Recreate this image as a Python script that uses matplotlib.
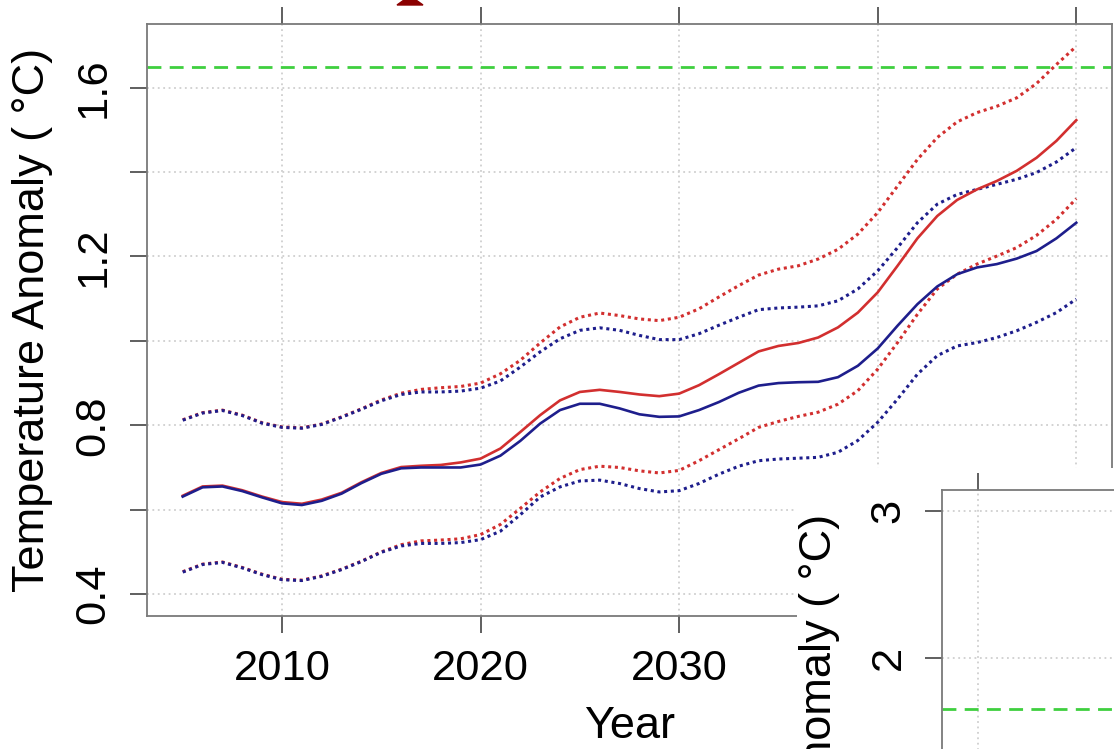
import numpy as np
import matplotlib
matplotlib.use('Agg')
from matplotlib import pyplot
from matplotlib.patches import Polygon, Rectangle

# Projected temperature anomaly, 2005-2050
years = np.arange(2005, 2051)

red_mean = [
    0.633, 0.655, 0.657, 0.646, 0.631, 0.618, 0.614, 0.624, 0.640, 0.665,
    0.687, 0.701, 0.704, 0.706, 0.712, 0.721, 0.745, 0.784, 0.824, 0.859,
    0.879, 0.884, 0.879, 0.873, 0.869, 0.875, 0.895, 0.921, 0.948, 0.975,
    0.988, 0.995, 1.008, 1.032, 1.067, 1.115, 1.178, 1.243, 1.296, 1.334,
    1.359, 1.379, 1.403, 1.434, 1.474, 1.523,
]
red_upper = [
    0.813, 0.830, 0.836, 0.824, 0.806, 0.796, 0.794, 0.803, 0.820, 0.839,
    0.860, 0.876, 0.885, 0.889, 0.892, 0.900, 0.922, 0.954, 0.995, 1.033,
    1.056, 1.066, 1.060, 1.052, 1.048, 1.056, 1.076, 1.104, 1.131, 1.156,
    1.170, 1.178, 1.194, 1.217, 1.253, 1.304, 1.367, 1.430, 1.482, 1.519,
    1.541, 1.556, 1.576, 1.610, 1.655, 1.698,
]
red_lower = [
    0.453, 0.471, 0.476, 0.463, 0.447, 0.435, 0.433, 0.443, 0.459, 0.478,
    0.500, 0.517, 0.526, 0.528, 0.531, 0.541, 0.565, 0.603, 0.642, 0.674,
    0.695, 0.703, 0.700, 0.692, 0.687, 0.693, 0.716, 0.742, 0.768, 0.795,
    0.809, 0.821, 0.831, 0.850, 0.882, 0.933, 0.996, 1.063, 1.123, 1.158,
    1.182, 1.201, 1.221, 1.250, 1.288, 1.337,
]
blue_mean = [
    0.631, 0.653, 0.655, 0.644, 0.629, 0.615, 0.611, 0.621, 0.638, 0.663,
    0.685, 0.698, 0.700, 0.700, 0.700, 0.707, 0.728, 0.763, 0.804, 0.836,
    0.851, 0.851, 0.840, 0.826, 0.820, 0.821, 0.836, 0.855, 0.877, 0.894,
    0.900, 0.902, 0.903, 0.914, 0.941, 0.982, 1.036, 1.087, 1.129, 1.158,
    1.174, 1.182, 1.195, 1.213, 1.243, 1.280,
]
blue_upper = [
    0.812, 0.829, 0.835, 0.823, 0.805, 0.795, 0.793, 0.802, 0.819, 0.838,
    0.858, 0.873, 0.879, 0.879, 0.881, 0.888, 0.905, 0.938, 0.974, 1.005,
    1.025, 1.031, 1.025, 1.013, 1.003, 1.003, 1.017, 1.037, 1.056, 1.074,
    1.078, 1.080, 1.083, 1.095, 1.123, 1.166, 1.221, 1.280, 1.324, 1.347,
    1.359, 1.371, 1.383, 1.399, 1.424, 1.458,
]
blue_lower = [
    0.452, 0.470, 0.475, 0.462, 0.446, 0.434, 0.432, 0.442, 0.458, 0.477,
    0.499, 0.514, 0.520, 0.520, 0.522, 0.529, 0.549, 0.588, 0.630, 0.654,
    0.668, 0.670, 0.662, 0.650, 0.642, 0.645, 0.662, 0.684, 0.703, 0.716,
    0.720, 0.722, 0.724, 0.736, 0.764, 0.807, 0.862, 0.921, 0.965, 0.988,
    0.996, 1.008, 1.024, 1.044, 1.067, 1.099,
]
threshold = 1.65

x_ticks = [2010, 2020, 2030, 2040, 2050]
y_ticks = [0.4, 0.6, 0.8, 1.0, 1.2, 1.4, 1.6]
y_tick_labels = ['0.4', '', '0.8', '', '1.2', '', '1.6']

inset_x_ticks = [2010, 2050, 2090]
inset_y_ticks = [0, 1, 2, 3]

W, H = 1114.0, 749.0
RED = '#d22f2f'
BLUE = '#1e1e8c'
GREEN = '#3fcf3f'
GRID = '#cfcfcf'
TICK_FONT = 31.3
LABEL_FONT = 32.5


def style_axes(ax):
    for side in ('left', 'top', 'right', 'bottom'):
        ax.spines[side].set_color('#7a7a7a')
        ax.spines[side].set_linewidth(1.3)
    ax.tick_params(direction='out', length=12, width=1.2, color='#444444',
                   labelsize=TICK_FONT, pad=12)
    ax.tick_params(axis='y', labelrotation=90)
    ax.tick_params(axis='x', top=True)
    for lbl in ax.get_yticklabels():
        lbl.set_va('center')
    ax.grid(True, color=GRID, linestyle=(0, (1, 2)), linewidth=1.3)
    ax.set_axisbelow(True)


def main():
    pyplot.rcParams['font.family'] = ['Liberation Sans', 'DejaVu Sans']
    fig = pyplot.figure(figsize=(W / 100, H / 100), dpi=100)

    ax = fig.add_axes([147 / W, 1 - 616 / H, 965 / W, 592 / H])
    dot = (0, (1, 1.2))
    ax.plot(years, red_upper, color=RED, lw=2.2, linestyle=dot, dash_capstyle='butt')
    ax.plot(years, red_lower, color=RED, lw=2.2, linestyle=dot, dash_capstyle='butt')
    ax.plot(years, blue_upper, color=BLUE, lw=2.2, linestyle=dot, dash_capstyle='butt')
    ax.plot(years, blue_lower, color=BLUE, lw=2.2, linestyle=dot, dash_capstyle='butt')
    ax.plot(years, red_mean, color=RED, lw=1.9)
    ax.plot(years, blue_mean, color=BLUE, lw=1.9)
    ax.axhline(threshold, color=GREEN, lw=2, linestyle=(0, (5, 3)))
    ax.set_xlim(2003.2, 2051.8)
    ax.set_ylim(0.348, 1.751)
    ax.set_xticks(x_ticks)
    ax.set_yticks(y_ticks)
    ax.set_yticklabels(y_tick_labels)
    ax.tick_params(axis='x', labeltop=False)
    style_axes(ax)
    ax.set_xlabel('Year', fontsize=LABEL_FONT, labelpad=12)
    ax.set_ylabel('Temperature Anomaly ( °C)', fontsize=LABEL_FONT, labelpad=15)

    # pasted second panel covering the lower right corner
    fig.patches.append(Rectangle(
        (797 / W, 0), 1 - 797 / W, (H - 468) / H,
        transform=fig.transFigure, facecolor='white', edgecolor='none',
        zorder=5))

    inset = fig.add_axes([942 / W, (H - 1082) / H, 420 / W, 592 / H], zorder=6)
    inset.axhline(threshold, color=GREEN, lw=2, linestyle=(0, (5, 3)))
    inset.set_xlim(2001.2, 2103.8)
    inset.set_ylim(-0.884, 3.143)
    inset.set_xticks(inset_x_ticks)
    inset.set_yticks(inset_y_ticks)
    inset.tick_params(axis='x', labeltop=False, labelbottom=False)
    style_axes(inset)
    inset.set_ylabel('Temperature Anomaly ( °C)', fontsize=LABEL_FONT, labelpad=21)

    # edge of a dark red mark cut off at the top
    fig.patches.append(Polygon(
        [(397 / W, 1 - 5 / H), (423 / W, 1 - 5 / H),
         (416 / W, 1.0), (404 / W, 1.0)],
        closed=True, transform=fig.transFigure, color='#8b0000'))

    fig.savefig('out.png', dpi=100)


if __name__ == '__main__':
    main()
